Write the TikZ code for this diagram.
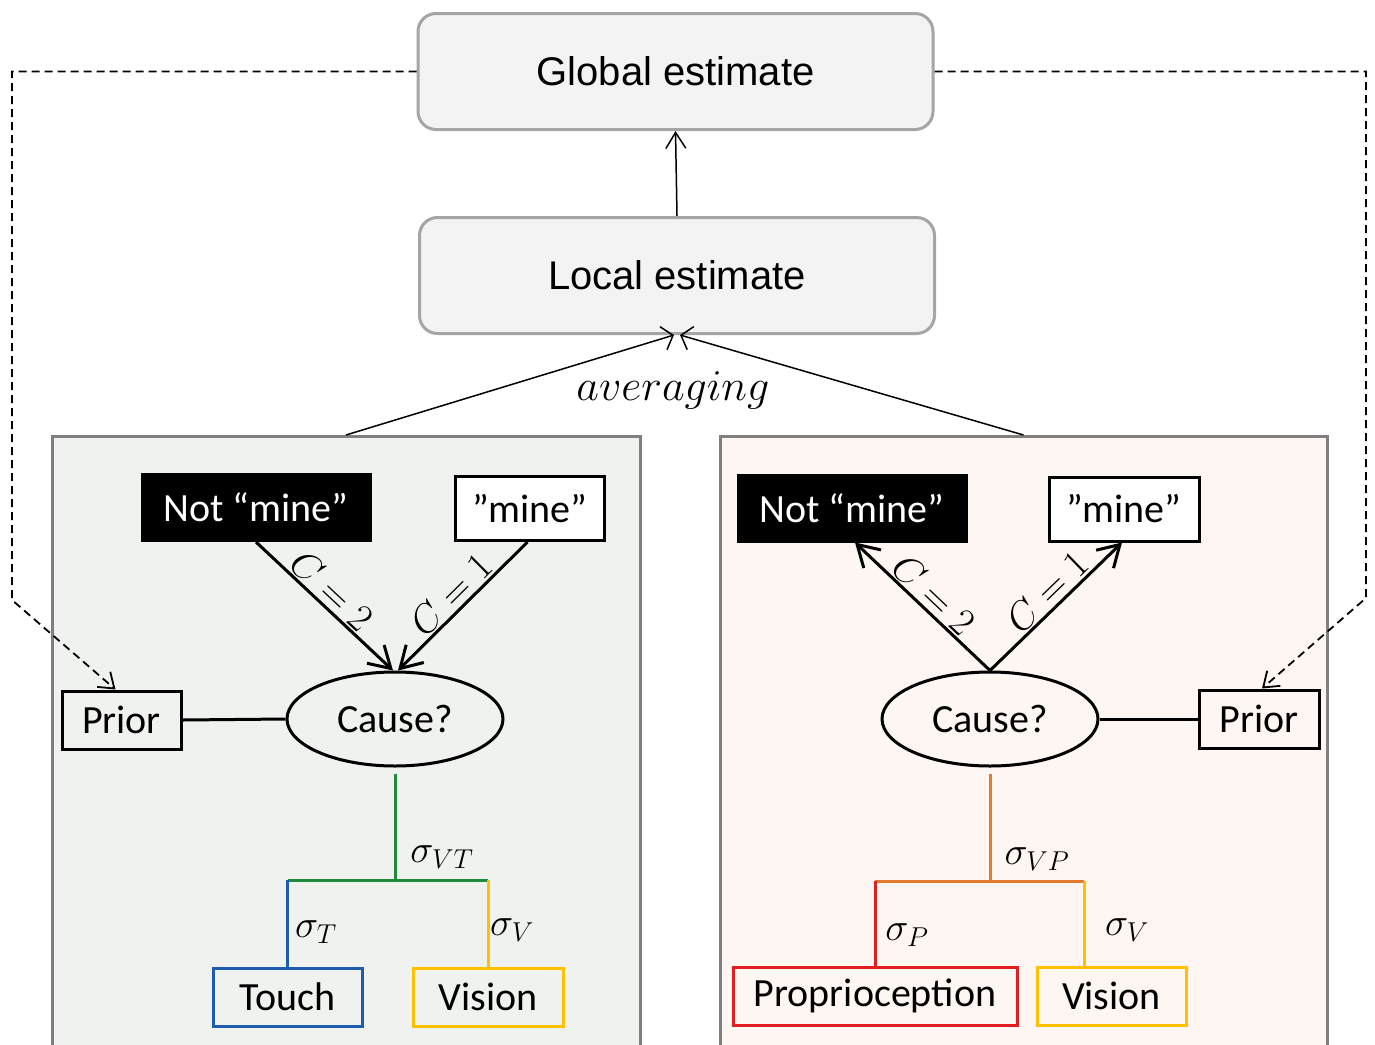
\RequirePackage{fix-cm}
\documentclass[tikz,border=0pt]{standalone}
\usepackage{fontspec}
\newfontfamily\arialf{Liberation Sans}
\newfontfamily\calf{Carlito}
\usetikzlibrary{arrows.meta,shapes.geometric,calc}
\definecolor{estfill}{HTML}{F3F3F3}
\definecolor{estborder}{HTML}{A5A5A5}
\definecolor{panelborder}{HTML}{808080}
\definecolor{leftfill}{HTML}{EFF2EE}
\definecolor{rightfill}{HTML}{FDF6F3}
\definecolor{cgreen}{HTML}{1F8A3A}
\definecolor{cblue}{HTML}{1F5CAD}
\definecolor{cyellow}{HTML}{FFC000}
\definecolor{cred}{HTML}{E21E1E}
\definecolor{corange}{HTML}{E27B2B}
\tikzset{
  cb/.tip={Straight Barb[length=21pt,width=25pt]},
  tb/.tip={Straight Barb[length=16pt,width=20pt]},
  ab/.tip={Straight Barb[length=10pt,width=24pt]},
  db/.tip={Straight Barb[length=14pt,width=20pt]},
}
\begin{document}
\begin{tikzpicture}[x=1pt,y=-1pt,
  est/.style={draw=estborder, fill=estfill, line width=3pt, rounded corners=18pt,
    minimum width=515pt, minimum height=116pt, inner sep=0pt,
    font=\arialf\fontsize{40}{48}\selectfont},
  panel/.style={draw=panelborder, line width=3pt, minimum width=588pt,
    minimum height=625pt, anchor=north, inner sep=0pt},
  blk/.style={draw=black, fill=black, text=white, line width=3pt, minimum width=228pt,
    minimum height=66pt, inner sep=0pt, font=\calf\fontsize{40}{46}\selectfont},
  wht/.style={draw=black, fill=white, line width=3pt, minimum width=149pt,
    minimum height=64pt, inner sep=0pt, font=\calf\fontsize{40}{46}\selectfont},
  cause/.style={ellipse, draw=black, line width=3pt, minimum width=216pt,
    minimum height=94pt, inner sep=0pt, font=\calf\fontsize{40}{46}\selectfont},
  sense/.style={line width=3pt, minimum height=58pt, inner sep=0pt,
    font=\calf\fontsize{40}{46}\selectfont},
  priorbox/.style={draw=black, line width=3pt, minimum width=119pt, minimum height=58pt,
    inner sep=0pt, font=\calf\fontsize{40}{46}\selectfont},
  lab/.style={font=\fontsize{39}{45}\selectfont, inner sep=2pt},
  cline/.style={line width=3pt, black},
  tline/.style={line width=3pt},
  dsh/.style={line width=1.8pt, dash pattern=on 8pt off 5pt, -db},
]
\useasboundingbox (0,0) rectangle (1375,1044);
\fill[white] (0,0) rectangle (1375,1044);

% panels
\node[panel, fill=leftfill] (pl) at (346,435) {};
\node[panel, fill=rightfill, minimum width=607pt] (pr) at (1023.5,435) {};

% estimates
\node[est] (glob) at (675.5,71.5) {Global estimate};
\node[est] (loc) at (677,275.5) {Local estimate};
\draw[line width=1.5pt, -tb] (loc.north) -- (glob.south);

% averaging
\draw[line width=1.5pt, -ab] (pl.north) -- ([xshift=-3pt]loc.south);
\draw[line width=1.5pt, -ab] (pr.north) -- ([xshift=3pt]loc.south);
\node[lab, font=\fontsize{44}{50}\selectfont] (avg) at (673,390) {$averaging$};

% left panel
\node[blk] (nm1) at (256,507.5) {Not “mine”};
\node[wht] (m1) at (529.5,508.5) {”mine”};
\node[cause] (c1) at (395,719) {Cause?};
\node[priorbox] (p1) at (121.5,720) {Prior};
\node[sense, draw=cblue, minimum width=149pt] (t1) at (287.5,997) {Touch};
\node[sense, draw=cyellow, minimum width=150pt] (v1) at (488,997) {Vision};

\draw[cline] (p1.east) -- (c1.west);
\draw[cline, -cb] (nm1.south) -- ([xshift=-2pt]c1.north)
  node[pos=0.47, sloped, above, lab] {$C=2$};
\draw[cline, cb-] ([xshift=3pt]c1.north) -- ([xshift=-2pt]m1.south)
  node[pos=0.5, sloped, above, lab] {$C=1$};

\coordinate (j1) at (395,880);
\draw[tline, cgreen] ([yshift=-6pt]c1.south) -- (j1);
\draw[tline, cgreen] (t1.north |- j1) -- (v1.north |- j1);
\draw[tline, cblue] (t1.north |- j1) -- (t1.north);
\draw[tline, cyellow] (v1.north |- j1) -- (v1.north);
\node[lab] (svt) at (442,857) {$\sigma_{VT}$};
\node[lab] (st) at (316,932) {$\sigma_{T}$};
\node[lab] (sv1) at (512,930) {$\sigma_{V}$};

% right panel
\node[blk] (nm2) at (852,508) {Not “mine”};
\node[wht, minimum width=150pt] (m2) at (1124,509) {”mine”};
\node[cause] (c2) at (990,719) {Cause?};
\node[priorbox, minimum width=120pt] (p2) at (1259,719) {Prior};
\node[sense, draw=cred, minimum width=284pt] (pp2) at (875,996) {Proprioception};
\node[sense, draw=cyellow, minimum width=149pt] (v2) at (1111.5,996) {Vision};

\draw[cline] (c2.east) -- (p2.west);
\draw[cline, cb-] ([xshift=3pt]nm2.south) -- (c2.north)
  node[pos=0.5, sloped, above, lab] {$C=2$};
\draw[cline, -cb] (c2.north) -- ([xshift=-2pt]m2.south)
  node[pos=0.52, sloped, above, lab] {$C=1$};

\coordinate (j2) at (990,881);
\coordinate (k2) at (1084,881);
\draw[tline, corange] ([yshift=-6pt]c2.south) -- (j2);
\draw[tline, corange] (pp2.north |- j2) -- (k2);
\draw[tline, cred] (pp2.north |- j2) -- (pp2.north);
\draw[tline, cyellow] (k2) -- (k2 |- v2.north);
\node[lab] (svp) at (1037,859) {$\sigma_{VP}$};
\node[lab] (sp) at (907,935) {$\sigma_{P}$};
\node[lab] (sv2) at (1127,930) {$\sigma_{V}$};

% dashed feedback
\coordinate (dl) at (12,600);
\coordinate (dr) at (1366,598);
\draw[dsh] (glob.west) -| (dl) -- ([xshift=-6pt]p1.north);
\draw[dsh] (glob.east) -| (dr) -- ([xshift=3pt]p2.north);
\end{tikzpicture}
\end{document}
